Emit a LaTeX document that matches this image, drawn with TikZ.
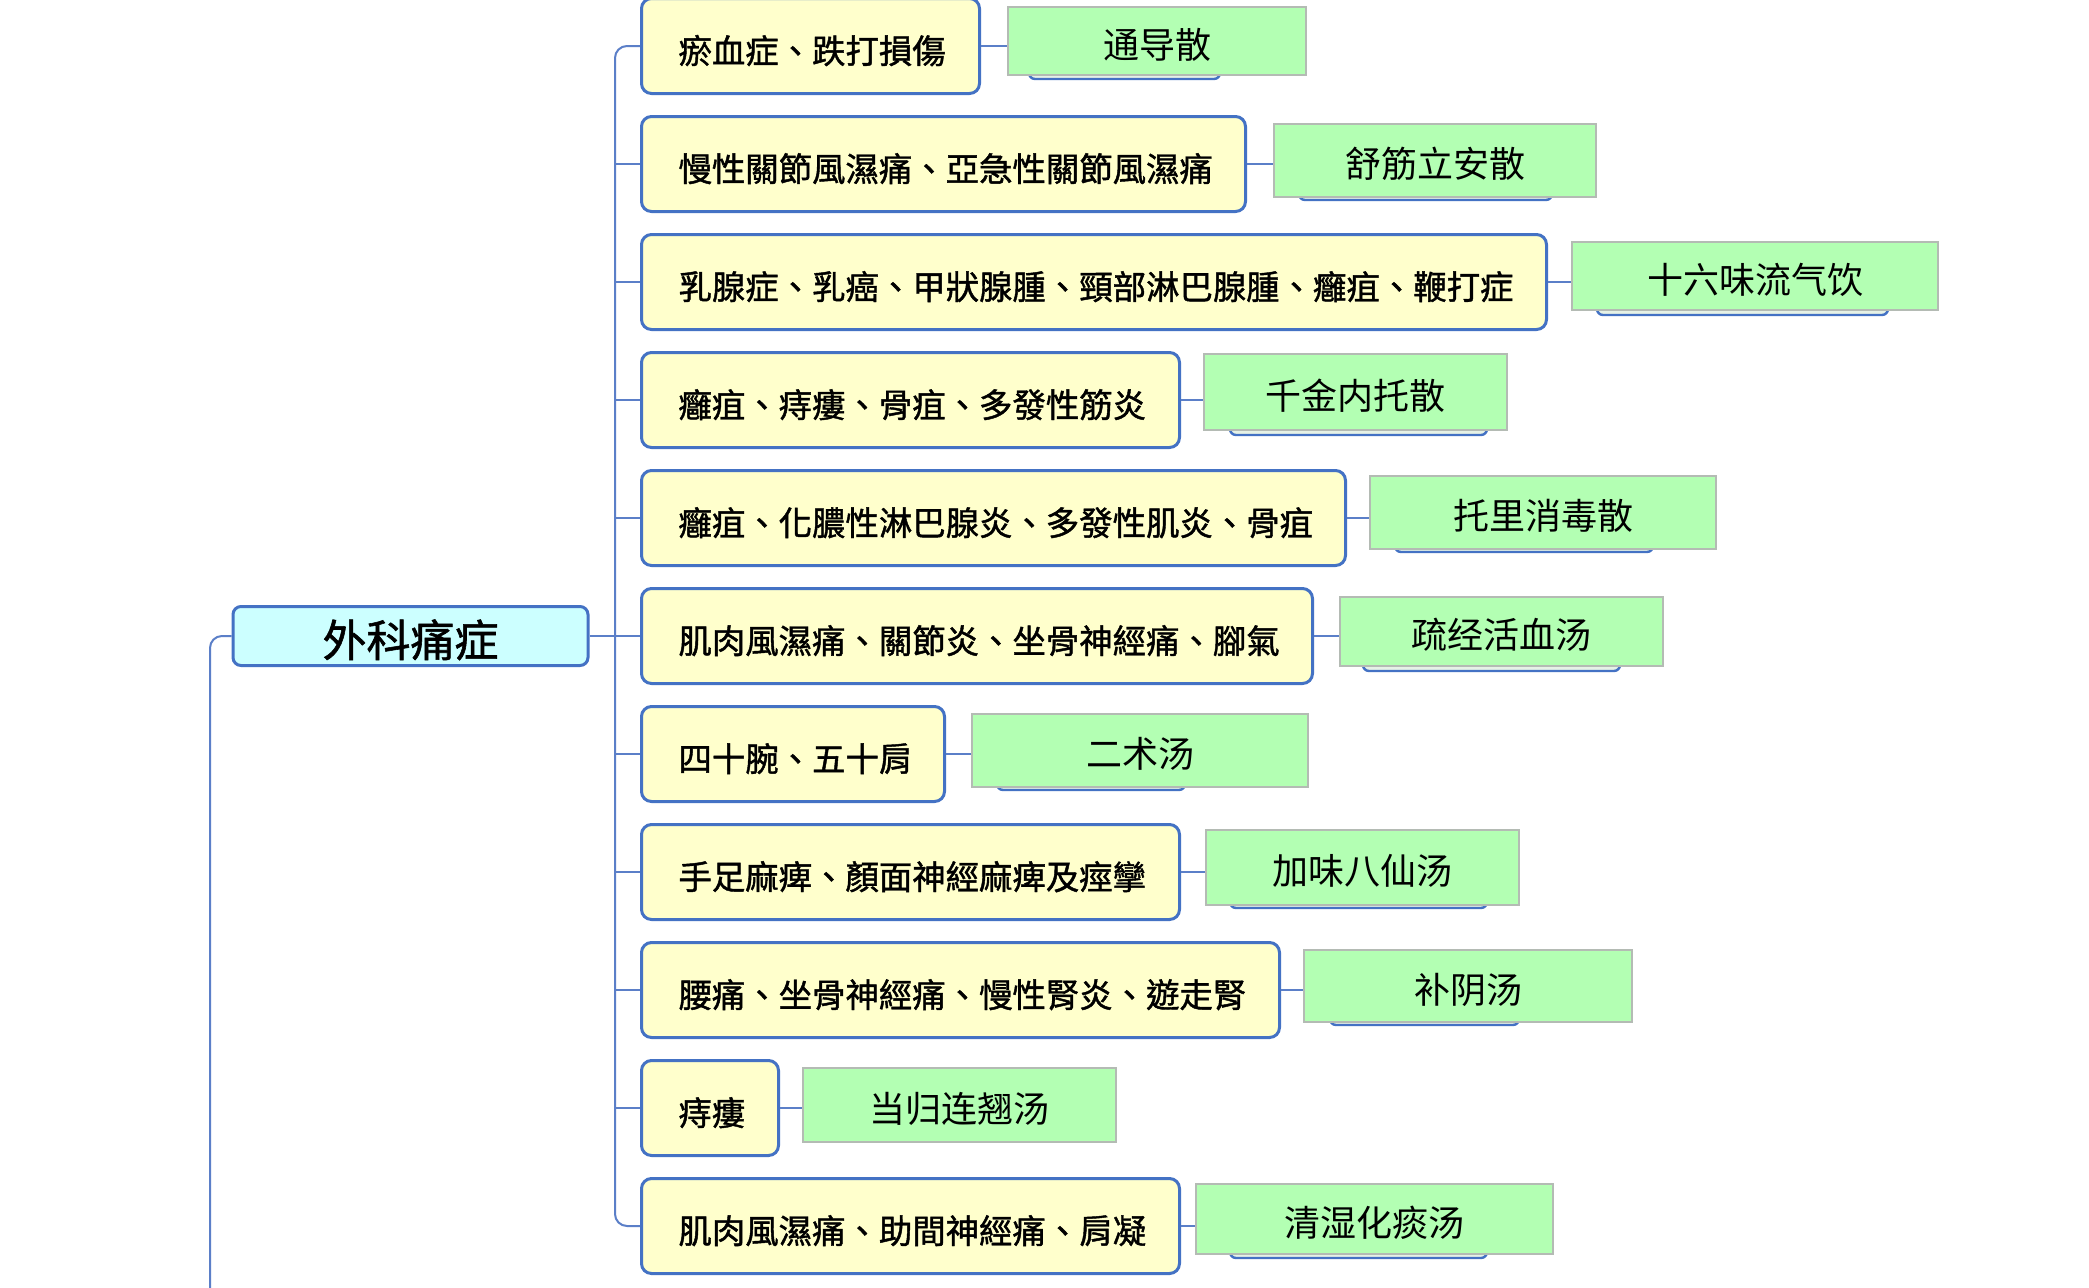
\documentclass[tikz,border=0pt]{standalone}
\usepackage{fontspec}
\newfontfamily\tcfont[FakeBold=1.3]{Noto Sans CJK TC}
\newfontfamily\scfont{Noto Sans CJK SC}
\definecolor{bl}{HTML}{4472C4}
\definecolor{cl}{HTML}{5B7FC8}
\definecolor{yfill}{HTML}{FFFFCC}
\definecolor{cfill}{HTML}{CCFFFF}
\definecolor{gfill}{HTML}{B3FFB3}
\definecolor{gborder}{HTML}{B4BBB4}
\definecolor{sfill}{HTML}{E6F2E6}
\tikzset{
  ybox/.style={draw=bl, line width=1.5pt, fill=yfill, rounded corners=5pt, anchor=west,
    minimum height=47.5pt, inner xsep=18.5pt, inner ysep=0pt,
    font=\tcfont\fontsize{16.7pt}{20pt}\selectfont},
  rootbox/.style={draw=bl, line width=1.5pt, fill=cfill, rounded corners=4pt,
    minimum width=177.5pt, minimum height=29.5pt, inner sep=0pt,
    font=\tcfont\fontsize{22pt}{26pt}\selectfont},
  gbox/.style={draw=gborder, line width=1.2pt, fill=gfill, inner sep=0pt,
    font=\scfont\fontsize{18pt}{22pt}\selectfont},
  sbox/.style={draw=bl, line width=1.2pt, fill=sfill, rounded corners=3pt},
  conn/.style={draw=cl, line width=1pt},
}
\newcommand\ynode[4]{%
  \pgfmathsetmacro\mw{(#3-640)*0.5}%
  \pgfmathsetmacro\tw{(#3-640)*0.5-37}%
  \node[ybox, minimum width=\mw pt] (#1) at (640,#2)
    {\raisebox{-2pt}[0.9em][0.1em]{\makebox[\tw pt][l]{#4}}};}
\newcommand\gnode[6]{%
  \pgfmathsetmacro\gw{(#4-#2)*0.5}%
  \pgfmathsetmacro\gh{(#5-#3)*0.5}%
  \node[gbox, minimum width=\gw pt, minimum height=\gh pt] (#1) at ({(#2+#4)/2},{(#3+#5)/2})
    {\raisebox{-1.5pt}[0.9em][0.1em]{#6}};}
\newcommand\shad[3]{\draw[sbox] (#1,#3-40) rectangle (#2,#3);}
\begin{document}
\begin{tikzpicture}[x=0.5pt,y=-0.5pt]
\useasboundingbox (0,0) rectangle (2089,1287);
\fill[white] (0,0) rectangle (2089,1287);

% root
\node[rootbox] (root) at (410.5,636) {\raisebox{-1.5pt}[0.9em][0.1em]{外科痛症}};
\coordinate (trunk) at (615,636);
\coordinate (rootdown) at (210,1300);

% yellow nodes
\ynode{y1}{46}{978}{瘀血症、跌打損傷}
\ynode{y2}{164}{1244}{慢性關節風濕痛、亞急性關節風濕痛}
\ynode{y3}{282}{1545}{乳腺症、乳癌、甲狀腺腫、頸部淋巴腺腫、癰疽、鞭打症}
\ynode{y4}{400}{1178}{癰疽、痔瘻、骨疽、多發性筋炎}
\ynode{y5}{518}{1344}{癰疽、化膿性淋巴腺炎、多發性肌炎、骨疽}
\ynode{y6}{636}{1311}{肌肉風濕痛、關節炎、坐骨神經痛、腳氣}
\ynode{y7}{754}{943}{四十腕、五十肩}
\ynode{y8}{872}{1178}{手足麻痺、顏面神經麻痺及痙攣}
\ynode{y9}{990}{1278}{腰痛、坐骨神經痛、慢性腎炎、遊走腎}
\ynode{y10}{1108}{777}{痔瘻}
\ynode{y11}{1226}{1178}{肌肉風濕痛、助間神經痛、肩凝}

% shadows behind green nodes
\shad{1029}{1220}{79}
\shad{1299}{1552}{200}
\shad{1597}{1888}{315}
\shad{1230}{1487}{435}
\shad{1395}{1653}{552}
\shad{1363}{1620}{671}
\shad{997}{1185}{790}
\shad{1230}{1487}{908}
\shad{1330}{1519}{1025}
\shad{1230}{1487}{1258}

% green nodes
\gnode{g1}{1008}{7}{1306}{75}{通导散}
\gnode{g2}{1274}{124}{1596}{197}{舒筋立安散}
\gnode{g3}{1572}{242}{1938}{310}{十六味流气饮}
\gnode{g4}{1204}{354}{1507}{430}{千金内托散}
\gnode{g5}{1370}{476}{1716}{549}{托里消毒散}
\gnode{g6}{1340}{597}{1663}{666}{疏经活血汤}
\gnode{g7}{972}{714}{1308}{787}{二术汤}
\gnode{g8}{1206}{830}{1519}{905}{加味八仙汤}
\gnode{g9}{1304}{950}{1632}{1022}{补阴汤}
\gnode{g10}{803}{1068}{1116}{1142}{当归连翘汤}
\gnode{g11}{1196}{1184}{1553}{1254}{清湿化痰汤}

% connectors
\draw[conn, rounded corners=6pt] (root.west) -| (rootdown);
\draw[conn] (root.east) -- (trunk);
\draw[conn, rounded corners=6pt] (y1.west) -- (trunk |- y1.west) -- (trunk |- y11.west) -- (y11.west);
\foreach \i in {2,...,10} {\draw[conn] (trunk |- y\i.west) -- (y\i.west);}
\foreach \i in {1,...,11} {\draw[conn] (y\i.east) -- (g\i.west |- y\i.east);}
\end{tikzpicture}
\end{document}
